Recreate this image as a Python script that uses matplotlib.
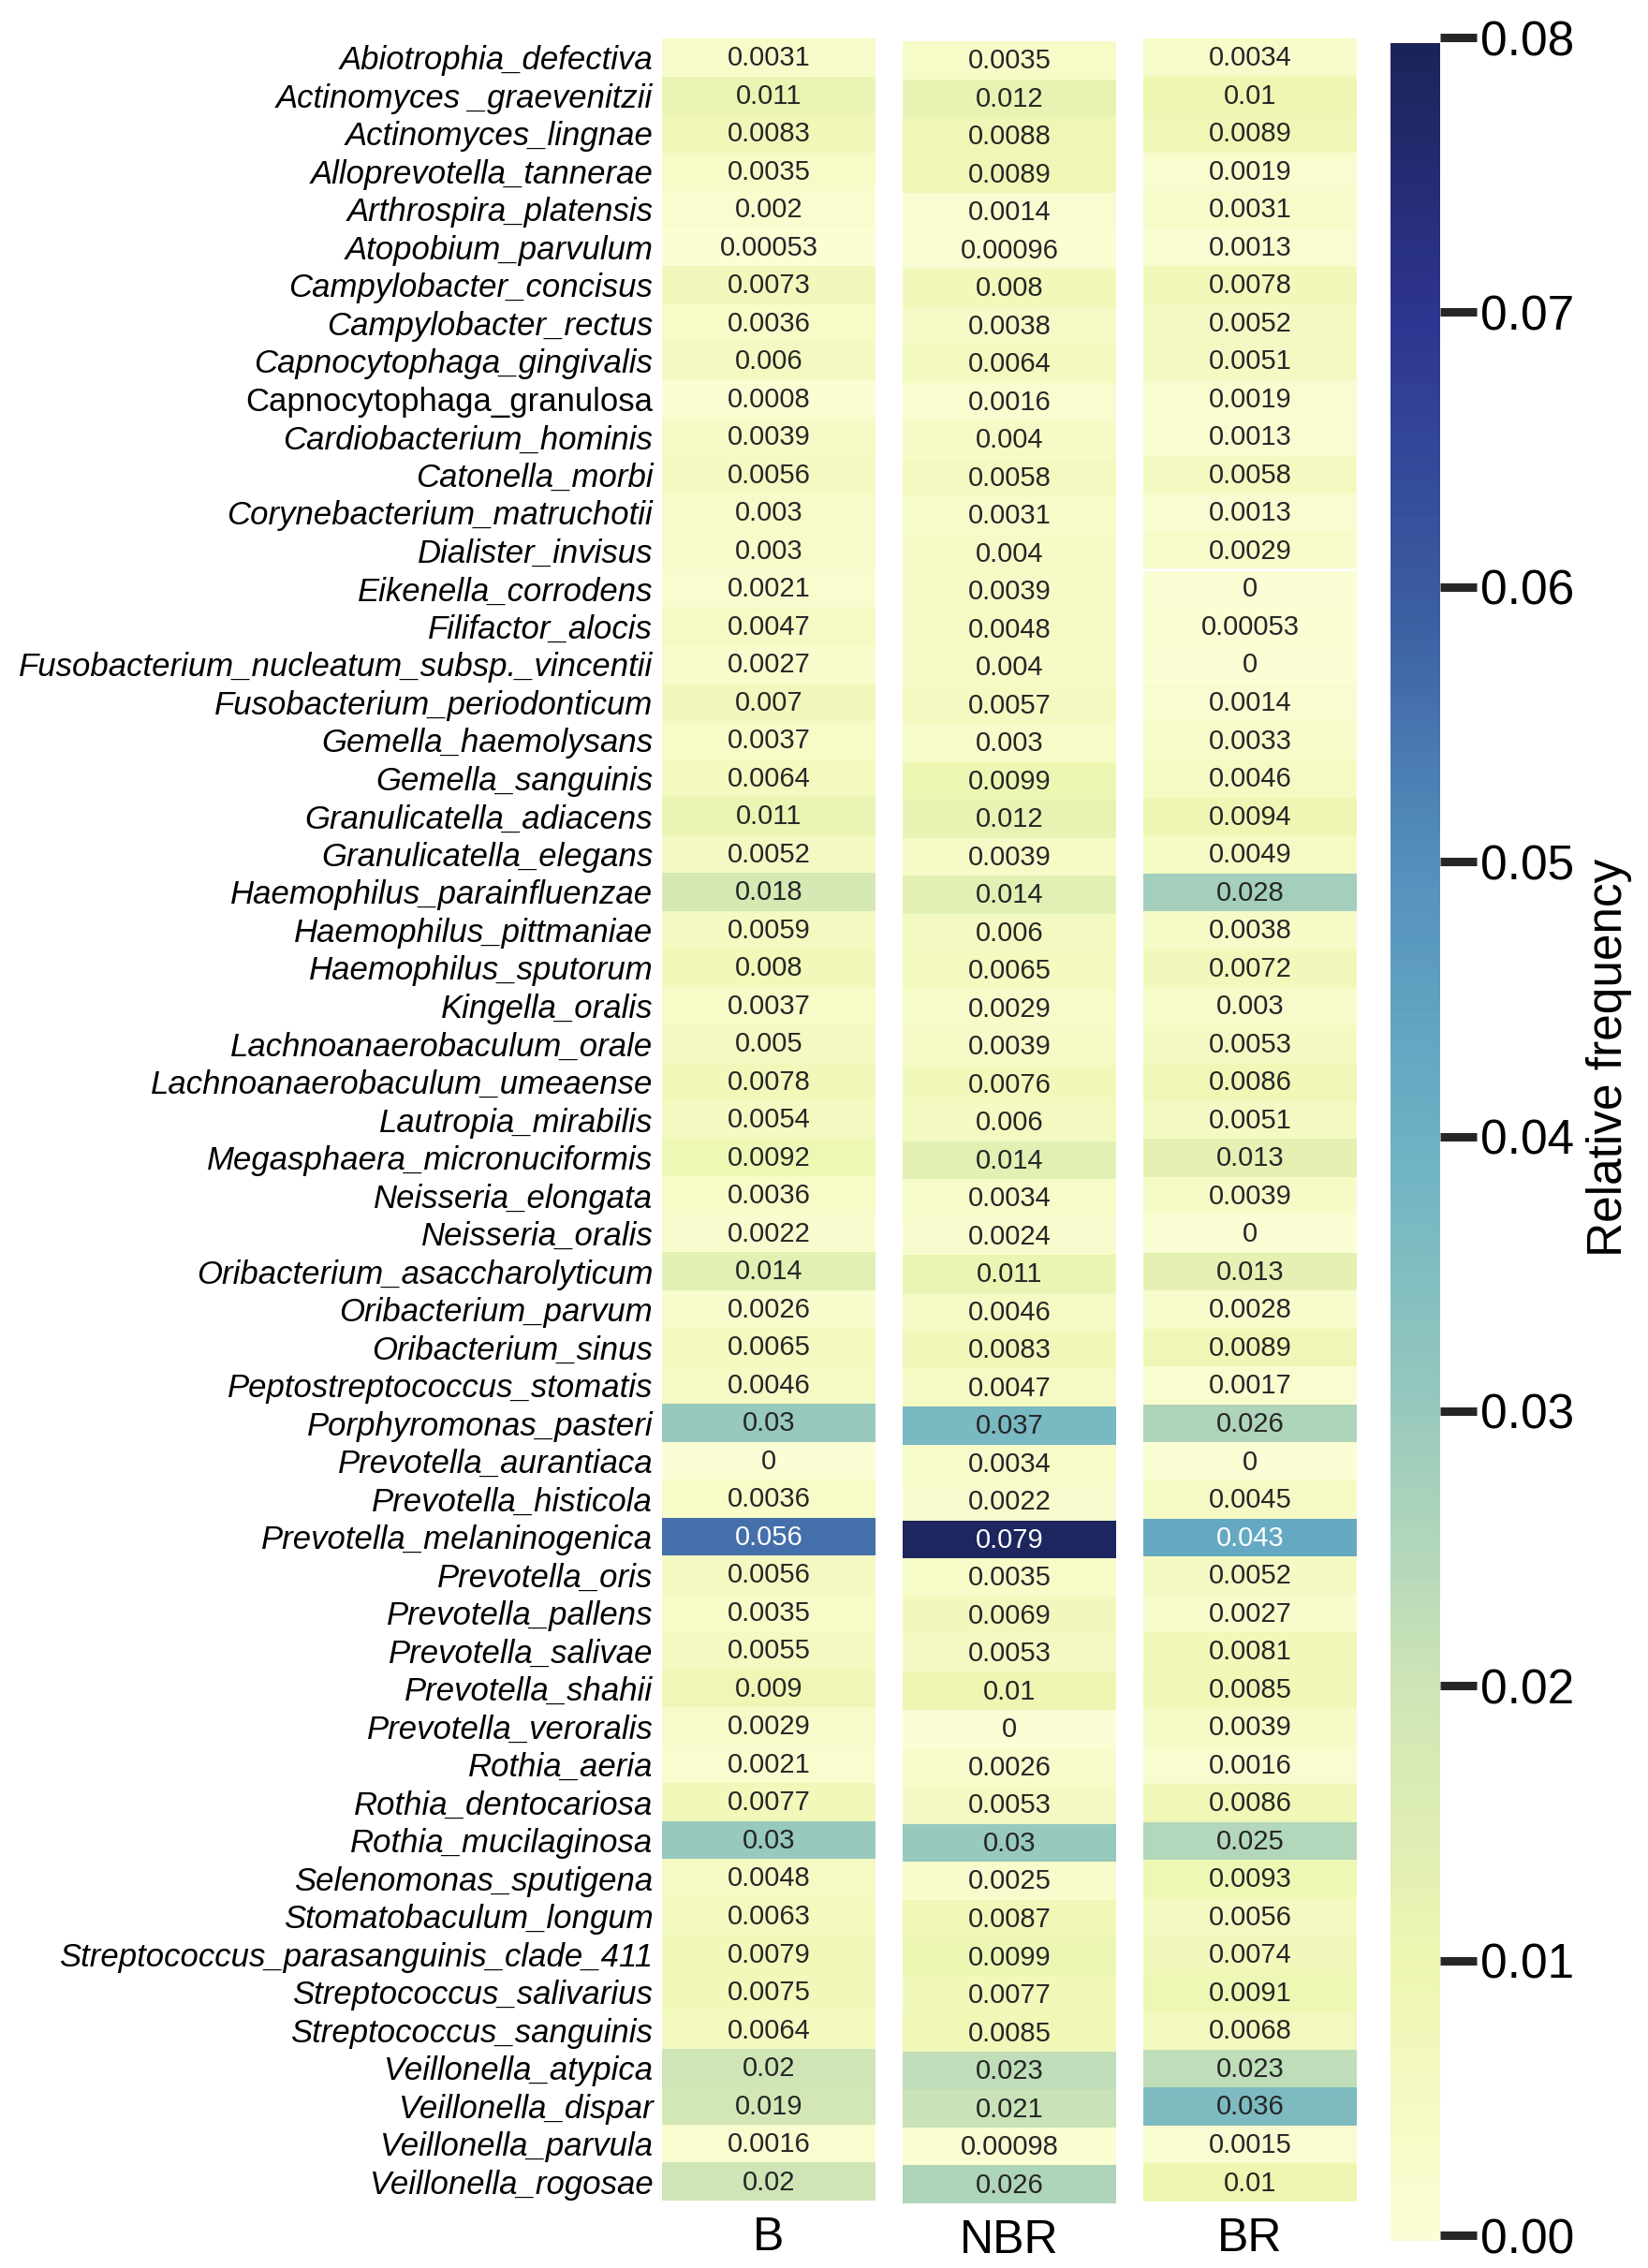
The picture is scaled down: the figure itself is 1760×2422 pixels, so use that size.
import numpy as np
import matplotlib
matplotlib.use("Agg")
import matplotlib.pyplot as plt
from matplotlib.colors import LinearSegmentedColormap, Normalize, to_rgb

# Data block
## Species (rows) and relative frequency per group (columns)
species = [
    "Abiotrophia_defectiva", "Actinomyces _graevenitzii", "Actinomyces_lingnae",
    "Alloprevotella_tannerae", "Arthrospira_platensis", "Atopobium_parvulum",
    "Campylobacter_concisus", "Campylobacter_rectus", "Capnocytophaga_gingivalis",
    "Capnocytophaga_granulosa", "Cardiobacterium_hominis", "Catonella_morbi",
    "Corynebacterium_matruchotii", "Dialister_invisus", "Eikenella_corrodens",
    "Filifactor_alocis", "Fusobacterium_nucleatum_subsp._vincentii",
    "Fusobacterium_periodonticum", "Gemella_haemolysans", "Gemella_sanguinis",
    "Granulicatella_adiacens", "Granulicatella_elegans", "Haemophilus_parainfluenzae",
    "Haemophilus_pittmaniae", "Haemophilus_sputorum", "Kingella_oralis",
    "Lachnoanaerobaculum_orale", "Lachnoanaerobaculum_umeaense", "Lautropia_mirabilis",
    "Megasphaera_micronuciformis", "Neisseria_elongata", "Neisseria_oralis",
    "Oribacterium_asaccharolyticum", "Oribacterium_parvum", "Oribacterium_sinus",
    "Peptostreptococcus_stomatis", "Porphyromonas_pasteri", "Prevotella_aurantiaca",
    "Prevotella_histicola", "Prevotella_melaninogenica", "Prevotella_oris",
    "Prevotella_pallens", "Prevotella_salivae", "Prevotella_shahii",
    "Prevotella_veroralis", "Rothia_aeria", "Rothia_dentocariosa",
    "Rothia_mucilaginosa", "Selenomonas_sputigena", "Stomatobaculum_longum",
    "Streptococcus_parasanguinis_clade_411", "Streptococcus_salivarius",
    "Streptococcus_sanguinis", "Veillonella_atypica", "Veillonella_dispar",
    "Veillonella_parvula", "Veillonella_rogosae",
]
upright_labels = ["Capnocytophaga_granulosa"]

groups = ["B", "NBR", "BR"]

freq_b = [
    0.0031, 0.011, 0.0083, 0.0035, 0.002, 0.00053, 0.0073, 0.0036, 0.006, 0.0008,
    0.0039, 0.0056, 0.003, 0.003, 0.0021, 0.0047, 0.0027, 0.007, 0.0037, 0.0064,
    0.011, 0.0052, 0.018, 0.0059, 0.008, 0.0037, 0.005, 0.0078, 0.0054, 0.0092,
    0.0036, 0.0022, 0.014, 0.0026, 0.0065, 0.0046, 0.03, 0, 0.0036, 0.056,
    0.0056, 0.0035, 0.0055, 0.009, 0.0029, 0.0021, 0.0077, 0.03, 0.0048, 0.0063,
    0.0079, 0.0075, 0.0064, 0.02, 0.019, 0.0016, 0.02,
]
freq_nbr = [
    0.0035, 0.012, 0.0088, 0.0089, 0.0014, 0.00096, 0.008, 0.0038, 0.0064, 0.0016,
    0.004, 0.0058, 0.0031, 0.004, 0.0039, 0.0048, 0.004, 0.0057, 0.003, 0.0099,
    0.012, 0.0039, 0.014, 0.006, 0.0065, 0.0029, 0.0039, 0.0076, 0.006, 0.014,
    0.0034, 0.0024, 0.011, 0.0046, 0.0083, 0.0047, 0.037, 0.0034, 0.0022, 0.079,
    0.0035, 0.0069, 0.0053, 0.01, 0, 0.0026, 0.0053, 0.03, 0.0025, 0.0087,
    0.0099, 0.0077, 0.0085, 0.023, 0.021, 0.00098, 0.026,
]
freq_br = [
    0.0034, 0.01, 0.0089, 0.0019, 0.0031, 0.0013, 0.0078, 0.0052, 0.0051, 0.0019,
    0.0013, 0.0058, 0.0013, 0.0029, 0, 0.00053, 0, 0.0014, 0.0033, 0.0046,
    0.0094, 0.0049, 0.028, 0.0038, 0.0072, 0.003, 0.0053, 0.0086, 0.0051, 0.013,
    0.0039, 0, 0.013, 0.0028, 0.0089, 0.0017, 0.026, 0, 0.0045, 0.043,
    0.0052, 0.0027, 0.0081, 0.0085, 0.0039, 0.0016, 0.0086, 0.025, 0.0093, 0.0056,
    0.0074, 0.0091, 0.0068, 0.023, 0.036, 0.0015, 0.01,
]
cbar_ticks = [0.00, 0.01, 0.02, 0.03, 0.04, 0.05, 0.06, 0.07, 0.08]

# Styling
## Washed-out YlGnBu as it appears in the figure
cmap = LinearSegmentedColormap.from_list("ylgnbu_soft", [
    (0.0, "#fbfdd4"), (0.125, "#eef6b2"), (0.25, "#cfe5b6"), (0.375, "#98c9bd"),
    (0.5, "#6cb2c4"), (0.625, "#5490bd"), (0.75, "#3a5ba0"), (0.875, "#2e3590"),
    (1.0, "#1b2459"),
])
norm = Normalize(vmin=0.0, vmax=0.08)
plt.rcParams["font.family"] = ["Liberation Sans", "DejaVu Sans"]

W, H = 1760, 2422


def px_rect(x0, y0, x1, y1):
    """Convert pixel box (top-left origin) to figure fraction rect."""
    return [x0 / W, 1 - y1 / H, (x1 - x0) / W, (y1 - y0) / H]


def text_color(rgb):
    ## Same luminance rule that seaborn uses for annotations
    lin = [c / 12.92 if c <= 0.03928 else ((c + 0.055) / 1.055) ** 2.4 for c in rgb]
    lum = 0.2126 * lin[0] + 0.7152 * lin[1] + 0.0722 * lin[2]
    return "#262626" if lum > 0.408 else "white"


fig = plt.figure(figsize=(W / 100, H / 100), dpi=100)

# Column heatmaps
## Each group is drawn as its own single-column panel
col_boxes = [(707, 41, 935, 2350), (964, 44, 1192, 2353), (1221, 41, 1449, 2351)]
col_values = [freq_b, freq_nbr, freq_br]
n = len(species)

for idx, (name, vals, box) in enumerate(zip(groups, col_values, col_boxes)):
    ax = fig.add_axes(px_rect(*box))
    data = np.array(vals, dtype=float).reshape(-1, 1)
    ax.pcolormesh([0, 1], np.arange(n + 1), data, cmap=cmap, norm=norm)
    ax.set_xlim(0, 1)
    ax.set_ylim(n, 0)
    for spine in ax.spines.values():
        spine.set_visible(False)

    for row, v in enumerate(vals):
        ax.text(0.5, row + 0.52, format(v, ".2g"), ha="center", va="center",
                fontsize=21, color=text_color(to_rgb(cmap(norm(v)))))

    ax.set_xticks([0.5])
    ax.set_xticklabels([name], fontsize=36)
    ax.tick_params(axis="x", length=0, pad=12)

    if idx == 0:
        ax.set_yticks(np.arange(n) + 0.5)
        ax.set_yticklabels(species, fontsize=25)
        for lab in ax.get_yticklabels():
            if lab.get_text() not in upright_labels:
                lab.set_style("italic")
        ax.tick_params(axis="y", length=0, pad=7)
    else:
        ax.set_yticks([])

    if name == "BR":
        ## thin white seam visible in the BR column
        ax.axhline(14, color="white", lw=2)

# Colour scale
## Gradient strip with thick tick dashes on its right side
cax = fig.add_axes(px_rect(1485, 40, 1538, 2393))
grad = np.linspace(-0.0002, 0.0798, 400)
cax.pcolormesh([0, 1], grad, ((grad[:-1] + grad[1:]) / 2 + 0.0002).reshape(-1, 1),
               cmap=cmap, norm=norm)
cax.set_xlim(0, 1)
cax.set_ylim(-0.0002, 0.0800)
cax.set_xticks([])
cax.yaxis.tick_right()
cax.set_yticks(cbar_ticks)
cax.set_yticklabels([f"{t:.2f}" for t in cbar_ticks], fontsize=37)
cax.tick_params(axis="y", length=28, width=6.5, color="#262626", pad=3)
for spine in cax.spines.values():
    spine.set_visible(False)

fig.text(1718 / W, 1 - 1129 / H, "Relative frequency", rotation=90,
         ha="center", va="center", fontsize=37)

fig.savefig("out.png", dpi=100)
